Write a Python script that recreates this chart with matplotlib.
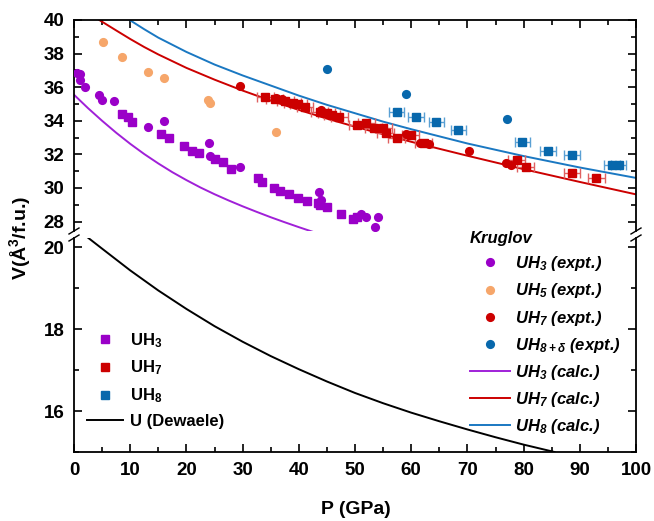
import matplotlib
matplotlib.use('Agg')
import matplotlib.pyplot as plt
from matplotlib.lines import Line2D
from matplotlib.ticker import MultipleLocator

plt.rcParams['font.family'] = ['Liberation Sans', 'DejaVu Sans']
plt.rcParams['font.weight'] = 'bold'
plt.rcParams['mathtext.default'] = 'regular'

# ---------------- data ----------------
# Kruglov experimental points (circles)
uh3_expt_P = [0.5, 1.1, 1.0, 2.0, 4.5, 5.0, 7.1, 13.1, 16.1, 24.1, 24.2, 29.5, 43.6, 43.9, 51.0, 52.0, 54.1, 53.6]
uh3_expt_V = [36.84, 36.78, 36.44, 36.04, 35.55, 35.25, 35.2, 33.66, 34.0, 32.66, 31.93, 31.27, 29.74, 29.28, 28.43, 28.25, 28.25, 27.7]

uh5_expt_P = [5.1, 8.6, 13.1, 16.1, 23.9, 24.2, 35.9]
uh5_expt_V = [38.69, 37.8, 36.9, 36.54, 35.25, 35.05, 33.36]

uh7_expt_P = [29.5, 36.0, 37.0, 43.9, 59.0, 61.5, 63.1, 70.2, 76.9, 77.8]
uh7_expt_V = [36.1, 35.35, 35.3, 34.65, 33.2, 32.66, 32.62, 32.2, 31.47, 31.37]

uh8d_expt_P = [45.0, 59.0, 77.0]
uh8d_expt_V = [37.1, 35.6, 34.1]

# This work (squares)
uh3_P = [8.6, 9.6, 10.3, 15.4, 16.9, 19.5, 21.0, 22.3, 25.0, 26.5, 27.9, 32.7, 33.5, 35.5, 36.7, 38.3,
         39.9, 41.5, 43.5, 43.7, 45.0, 47.5, 49.7, 50.4]
uh3_V = [34.4, 34.25, 33.92, 33.22, 32.96, 32.47, 32.23, 32.07, 31.75, 31.53, 31.13, 30.58, 30.34, 30.02,
         29.82, 29.62, 29.38, 29.22, 29.1, 28.99, 28.89, 28.43, 28.15, 28.25]

uh7_P = [34.0, 35.7, 37.6, 38.9, 39.9, 41.1, 43.7, 45.0, 45.9, 47.2, 50.4, 52.0, 53.3, 55.0, 55.5, 57.4,
         59.9, 62.2, 78.8, 80.4, 88.6, 92.9]
uh7_V = [35.4, 35.3, 35.15, 35.05, 34.99, 34.85, 34.55, 34.45, 34.35, 34.25, 33.76, 33.86, 33.56, 33.56,
         33.26, 32.96, 33.16, 32.66, 31.67, 31.27, 30.91, 30.58]
uh7_Perr = [1.5] * len(uh7_P)

uh8_P = [57.4, 60.9, 64.5, 68.4, 79.8, 84.4, 88.6, 95.7, 96.9]
uh8_V = [34.51, 34.21, 33.9, 33.46, 32.72, 32.23, 31.97, 31.37, 31.37]
uh8_Perr = [1.4] * len(uh8_P)

# calculated curves (Kruglov)
uh3_calc_P = [0, 2.5, 5, 7.5, 10, 12.5, 15, 17.5, 20, 22.5, 25, 27.5, 30, 32.5, 35, 37.5, 40, 42.5, 45]
uh3_calc_V = [35.55, 34.75, 34.0, 33.29, 32.63, 32.02, 31.46, 30.94, 30.47, 30.03, 29.63, 29.26, 28.91,
              28.58, 28.26, 27.96, 27.67, 27.39, 27.12]

uh7_calc_P = [4.5, 7.5, 10, 12.5, 15, 20, 25, 30, 35, 40, 45, 50, 60, 70, 80, 90, 100]
uh7_calc_V = [40.0, 39.38, 38.87, 38.39, 37.95, 37.15, 36.45, 35.8, 35.2, 34.65, 34.13, 33.65, 32.75,
              31.92, 31.12, 30.36, 29.62]

uh8_calc_P = [9.9, 12.5, 15, 20, 25, 30, 35, 40, 45, 50, 55, 60, 70, 80, 90, 100]
uh8_calc_V = [40.0, 39.45, 38.95, 38.1, 37.35, 36.7, 36.1, 35.5, 34.95, 34.45, 33.95, 33.5, 32.65, 31.9,
              31.22, 30.6]

# U (Dewaele)
u_P = [2.0, 5, 10, 15, 20, 25, 30, 35, 40, 45, 50, 55, 60, 65, 70, 75, 80, 85.5]
u_V = [20.28, 19.96, 19.43, 18.94, 18.49, 18.07, 17.69, 17.34, 17.02, 16.72, 16.44, 16.19, 15.96, 15.75,
       15.55, 15.36, 15.18, 15.0]

purple = '#9A00C8'
purple_l = '#A020D8'
orange = '#F6A66A'
red = '#CC0000'
red_l = '#E06060'
blue = '#0868AC'
blue_l = '#1A78C2'
blue_e = '#5AA0D4'

# ---------------- figure ----------------
W, H = 654, 521
fig = plt.figure(figsize=(W / 100, H / 100), dpi=100)


def rect(x0, y0, x1, y1):
    return [x0 / W, 1 - y1 / H, (x1 - x0) / W, (y1 - y0) / H]


ax_t = fig.add_axes(rect(74, 20, 636, 231))
ax_b = fig.add_axes(rect(74, 238, 636, 452))

ms_c = 6.6
ms_s = 6.3

# top panel
ax_t.plot(uh3_calc_P, uh3_calc_V, color=purple_l, lw=1.4, zorder=2)
ax_t.plot(uh7_calc_P, uh7_calc_V, color=red, lw=1.4, zorder=2)
ax_t.plot(uh8_calc_P, uh8_calc_V, color=blue_l, lw=1.4, zorder=2)

ax_t.errorbar(uh7_P, uh7_V, xerr=uh7_Perr, fmt='s', color=red, ms=ms_s, ecolor=red_l,
              elinewidth=1.0, capsize=3.5, capthick=1.0, zorder=3)
ax_t.errorbar(uh8_P, uh8_V, xerr=uh8_Perr, fmt='s', color=blue, ms=ms_s, ecolor=blue_e,
              elinewidth=1.0, capsize=3.5, capthick=1.0, zorder=3)
ax_t.plot(uh3_P, uh3_V, 's', color=purple, ms=ms_s, zorder=3)

ax_t.plot(uh3_expt_P, uh3_expt_V, 'o', color=purple, ms=ms_c, mec='none', zorder=4)
ax_t.plot(uh5_expt_P, uh5_expt_V, 'o', color=orange, ms=ms_c, mec='none', zorder=4)
ax_t.plot(uh7_expt_P, uh7_expt_V, 'o', color=red, ms=ms_c, mec='none', zorder=4)
ax_t.plot(uh8d_expt_P, uh8d_expt_V, 'o', color=blue, ms=ms_c, mec='none', zorder=4)

# bottom panel
ax_b.plot(u_P, u_V, color='black', lw=1.4)

for ax in (ax_t, ax_b):
    ax.set_xlim(0, 100)
    for s in ax.spines.values():
        s.set_linewidth(1.3)
    ax.xaxis.set_major_locator(MultipleLocator(10))
    ax.xaxis.set_minor_locator(MultipleLocator(5))
    ax.yaxis.set_minor_locator(MultipleLocator(1))
    ax.tick_params(which='both', direction='in', width=1.2, labelsize=13.5)
    ax.tick_params(which='major', length=6)
    ax.tick_params(which='minor', length=3.5)
    ax.tick_params(axis='both', pad=7)

ax_t.set_ylim(27.44, 40)
ax_t.yaxis.set_major_locator(MultipleLocator(2))
ax_t.spines['bottom'].set_visible(False)
ax_t.tick_params(axis='x', which='both', bottom=False, labelbottom=False, top=True)
ax_t.tick_params(axis='y', which='both', right=True)

ax_b.set_ylim(15, 20.22)
ax_b.spines['top'].set_visible(False)
ax_b.tick_params(axis='x', which='both', top=False)
ax_b.tick_params(axis='y', which='both', right=True)
ax_b.set_yticks([16, 18, 20])

fig.text(356 / W, 1 - 509 / H, 'P (GPa)', ha='center', va='center', fontsize=14, fontweight='bold')
fig.text(20 / W, 1 - 238 / H, 'V(Å$^3$/f.u.)', ha='center', va='center', rotation=90,
         fontsize=14, fontweight='bold')

# break marks
for xb in (74, 636):
    for yb in (231, 238):
        fig.add_artist(Line2D([(xb - 5) / W, (xb + 5) / W], [1 - (yb + 3) / H, 1 - (yb - 3) / H],
                              transform=fig.transFigure, color='black', lw=1.0))

# left legend
h_left = [Line2D([], [], marker='s', ls='none', color=purple, ms=ms_s),
          Line2D([], [], marker='s', ls='none', color=red, ms=ms_s),
          Line2D([], [], marker='s', ls='none', color=blue, ms=ms_s),
          Line2D([], [], color='black', lw=1.4)]
l_left = ['UH$_3$', 'UH$_7$', 'UH$_8$', 'U (Dewaele)']
leg1 = ax_b.legend(h_left, l_left, loc='center left', bbox_to_anchor=(86.5 / W, 1 - 380 / H),
                   bbox_transform=fig.transFigure, frameon=False, borderpad=0, borderaxespad=0,
                   handlelength=2.2, handletextpad=0.4, labelspacing=0.54,
                   prop={'family': 'Liberation Sans', 'weight': 'bold', 'size': 12})
ax_b.add_artist(leg1)

# right legend (Kruglov)
h_right = [Line2D([], [], marker='o', ls='none', color=purple, ms=ms_c, mec='none'),
           Line2D([], [], marker='o', ls='none', color=orange, ms=ms_c, mec='none'),
           Line2D([], [], marker='o', ls='none', color=red, ms=ms_c, mec='none'),
           Line2D([], [], marker='o', ls='none', color=blue, ms=ms_c, mec='none'),
           Line2D([], [], color=purple_l, lw=1.4),
           Line2D([], [], color=red, lw=1.4),
           Line2D([], [], color=blue_l, lw=1.4)]
l_right = ['UH$_3$ (expt.)', 'UH$_5$ (expt.)', 'UH$_7$ (expt.)', 'UH$_{8+δ}$ (expt.)',
           'UH$_3$ (calc.)', 'UH$_7$ (calc.)', 'UH$_8$ (calc.)']
leg2 = ax_b.legend(h_right, l_right, loc='upper left', bbox_to_anchor=(470 / W, 1 - 231 / H),
                   bbox_transform=fig.transFigure, frameon=False, borderpad=0, borderaxespad=0,
                   handlelength=2.4, handletextpad=0.33, labelspacing=0.49,
                   title='Kruglov', alignment='left',
                   title_fontproperties={'family': 'Liberation Sans', 'weight': 'bold',
                                         'style': 'italic', 'size': 12},
                   prop={'family': 'Liberation Sans', 'weight': 'bold', 'style': 'italic', 'size': 12})
leg2.set_zorder(10)

fig.savefig('out.png', dpi=100)
